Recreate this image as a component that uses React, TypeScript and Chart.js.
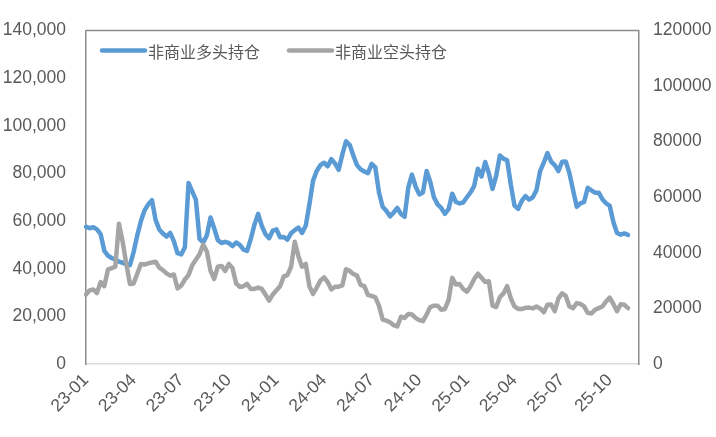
import { useEffect, useRef } from "react"
import { Chart, registerables } from "chart.js"

Chart.register(...registerables)

const longLabel = "非商业多头持仓"
const shortLabel = "非商业空头持仓"

// tick text shown every 13 weeks
const quarterLabels = ["23-01", "23-04", "23-07", "23-10", "24-01", "24-04", "24-07", "24-10", "25-01", "25-04", "25-07", "25-10"]

// weekly, left axis
const longPositions = [
  57600, 57000, 57400, 56500, 54500, 47500, 45500, 44500, 43800, 43000,
  42500, 41800, 41500, 47000, 54000, 60000, 64500, 67000, 68800, 60500,
  56500, 54800, 53500, 55000, 51500, 46500, 46000, 49000, 76000, 72500,
  69000, 52500, 51000, 54000, 61500, 57000, 52000, 50800, 51300, 50800,
  49500, 51000, 50000, 48000, 47500, 52500, 58500, 63000, 58000, 54500,
  52800, 56000, 56500, 53200, 53300, 52200, 54900, 56200, 57300, 55000,
  58000, 67000, 77000, 81000, 83500, 84500, 83000, 86000, 84200, 81500,
  88000, 93500, 92000, 87500, 83500, 81700, 80800, 80100, 84000, 82500,
  72000, 66000, 64300, 62000, 63500, 65500, 63000, 61800, 74000, 79500,
  74500, 71200, 72000, 81000, 76500, 70000, 67000, 65500, 63000, 65000,
  71500, 68000, 67400, 67800, 70000, 72000, 74800, 82000, 78700, 84800,
  80100, 73500, 79000, 87500, 86200, 85500, 75300, 66500, 65100, 68500,
  70500, 69000, 70000, 73000, 81000, 84500, 88500, 85000, 83500, 81000,
  84900, 85000, 80100, 73000, 66000, 67400, 68000, 74000, 72900, 71900,
  71900, 69200, 67500, 66400, 59600, 55000, 54300, 54800, 54200,
]

// weekly, right axis
const shortPositions = [
  25000, 26500, 26800, 25500, 29500, 28000, 34000, 34500, 35000, 50500,
  44000, 36000, 28800, 29000, 32500, 36000, 35800, 36200, 36500, 36800,
  34700, 33800, 32600, 31800, 32200, 27200, 28200, 30400, 32000, 35500,
  37500, 39500, 43000, 40500, 33500, 30600, 35000, 35300, 33500, 36000,
  34500, 29000, 27700, 28000, 28800, 27000, 27000, 27500, 27000, 25000,
  22800, 25000, 26500, 28000, 31500, 32000, 35000, 44000, 38800, 35000,
  36000, 28000, 25200, 27500, 30000, 31200, 29500, 26800, 27800, 27800,
  28300, 34100, 33500, 32400, 31800, 28500, 28000, 24800, 24500, 24000,
  21000, 16000, 15600, 15000, 14000, 13500, 17000, 16600, 18000, 17800,
  16600, 15800, 15400, 17800, 20500, 21000, 21000, 19500, 19800, 23000,
  31000, 28600, 28800, 27000, 26000, 28000, 30600, 32500, 31000, 29500,
  29800, 21000, 20500, 24000, 25400, 28000, 23600, 20700, 19800, 19800,
  20200, 20300, 20000, 20700, 20000, 18600, 21300, 21400, 19000, 23600,
  25400, 24500, 20700, 20100, 21900, 21600, 20700, 18400, 18200, 19500,
  20100, 20700, 22500, 23900, 21600, 19000, 21500, 21300, 20100,
]

const weekCount = 152
const firstWeek = new Date(Date.UTC(2023, 0, 3))
const weekLabels: string[] = []
for (let i = 0; i < weekCount; i++) {
  const d = new Date(firstWeek.getTime() + i * 7 * 86400000)
  weekLabels.push(d.toISOString().slice(0, 10))
}

const BLUE = "#5B9BD5"
const GRAY = "#A5A5A5"
const TEXT = "#595959"
const FONT = '"Liberation Sans", "Noto Sans CJK SC", sans-serif'

// legend sits inside the plot area, top left
const insideLegend = {
  id: "insideLegend",
  afterDraw(chart: Chart) {
    const { ctx, chartArea } = chart
    const y = chartArea.top + 20
    const starts = [chartArea.left + 16, chartArea.left + 203]
    ctx.save()
    chart.data.datasets.forEach((ds, i) => {
      const x = starts[i]
      ctx.strokeStyle = ds.borderColor as string
      ctx.lineWidth = 4.5
      ctx.lineCap = "round"
      ctx.beginPath()
      ctx.moveTo(x, y)
      ctx.lineTo(x + 43, y)
      ctx.stroke()
      ctx.fillStyle = TEXT
      ctx.font = '16px "Noto Sans CJK SC", sans-serif'
      ctx.textBaseline = "middle"
      ctx.textAlign = "left"
      ctx.fillText(ds.label as string, x + 46, y + 1)
    })
    ctx.restore()
  },
}

// top edge of the plot-area frame
const topFrame = {
  id: "topFrame",
  afterDraw(chart: Chart) {
    const { ctx, chartArea } = chart
    ctx.save()
    ctx.strokeStyle = "#8c8c8c"
    ctx.lineWidth = 1.5
    ctx.beginPath()
    ctx.moveTo(chartArea.left, chartArea.top)
    ctx.lineTo(chartArea.right, chartArea.top)
    ctx.stroke()
    ctx.restore()
  },
}

export default function App() {
  const chartRef = useRef<HTMLCanvasElement>(null)
  const chartInstance = useRef<Chart | null>(null)

  useEffect(() => {
    if (!chartRef.current) return
    if (chartInstance.current) chartInstance.current.destroy()

    const ctx = chartRef.current.getContext("2d")
    if (!ctx) return

    chartInstance.current = new Chart(ctx, {
      type: "line",
      data: {
        labels: weekLabels,
        datasets: [
          {
            label: longLabel,
            data: longPositions,
            borderColor: BLUE,
            backgroundColor: BLUE,
            borderWidth: 4.5,
            pointRadius: 0,
            tension: 0,
            borderJoinStyle: "round",
            borderCapStyle: "round",
            yAxisID: "y",
            order: 2,
          },
          {
            label: shortLabel,
            data: shortPositions,
            borderColor: GRAY,
            backgroundColor: GRAY,
            borderWidth: 4.5,
            pointRadius: 0,
            tension: 0,
            borderJoinStyle: "round",
            borderCapStyle: "round",
            yAxisID: "y2",
            order: 1,
          },
        ],
      },
      options: {
        animation: false,
        responsive: true,
        maintainAspectRatio: false,
        layout: { padding: { top: 22, left: 0, right: 0, bottom: 0 } },
        plugins: {
          legend: { display: false },
          tooltip: { enabled: false },
        },
        scales: {
          x: {
            type: "category",
            offset: false,
            grid: { display: false, drawTicks: false },
            border: { display: true, color: "#d9d9d9", width: 1.5 },
            ticks: {
              autoSkip: false,
              maxRotation: 45,
              minRotation: 45,
              padding: 6,
              color: TEXT,
              font: { family: FONT, size: 17.5 },
              callback: (_v, i) => (i % 13 === 0 ? quarterLabels[i / 13] ?? "" : ""),
            },
            afterFit: (s) => {
              s.height = 73
            },
          },
          y: {
            position: "left",
            min: 0,
            max: 140000,
            grid: { display: false, drawTicks: false },
            border: { display: true, color: "#8c8c8c", width: 1.5 },
            ticks: {
              stepSize: 20000,
              padding: 20,
              color: TEXT,
              font: { family: FONT, size: 17.5 },
              callback: (v) => Number(v).toLocaleString("en-US"),
            },
            afterFit: (s) => {
              s.width = 86
            },
          },
          y2: {
            position: "right",
            min: 0,
            max: 120000,
            grid: { display: false, drawTicks: false },
            border: { display: true, color: "#8c8c8c", width: 1.5 },
            ticks: {
              stepSize: 20000,
              padding: 14,
              color: TEXT,
              font: { family: FONT, size: 17.5 },
              callback: (v) => String(v),
            },
            afterFit: (s) => {
              s.width = 77
            },
          },
        },
      },
      plugins: [insideLegend, topFrame],
    })

    return () => {
      if (chartInstance.current) {
        chartInstance.current.destroy()
        chartInstance.current = null
      }
    }
  }, [])

  return (
    <div style={{ position: "fixed", left: 0, top: 0, width: 716, height: 437, background: "#fff" }}>
      <canvas ref={chartRef} />
    </div>
  )
}
